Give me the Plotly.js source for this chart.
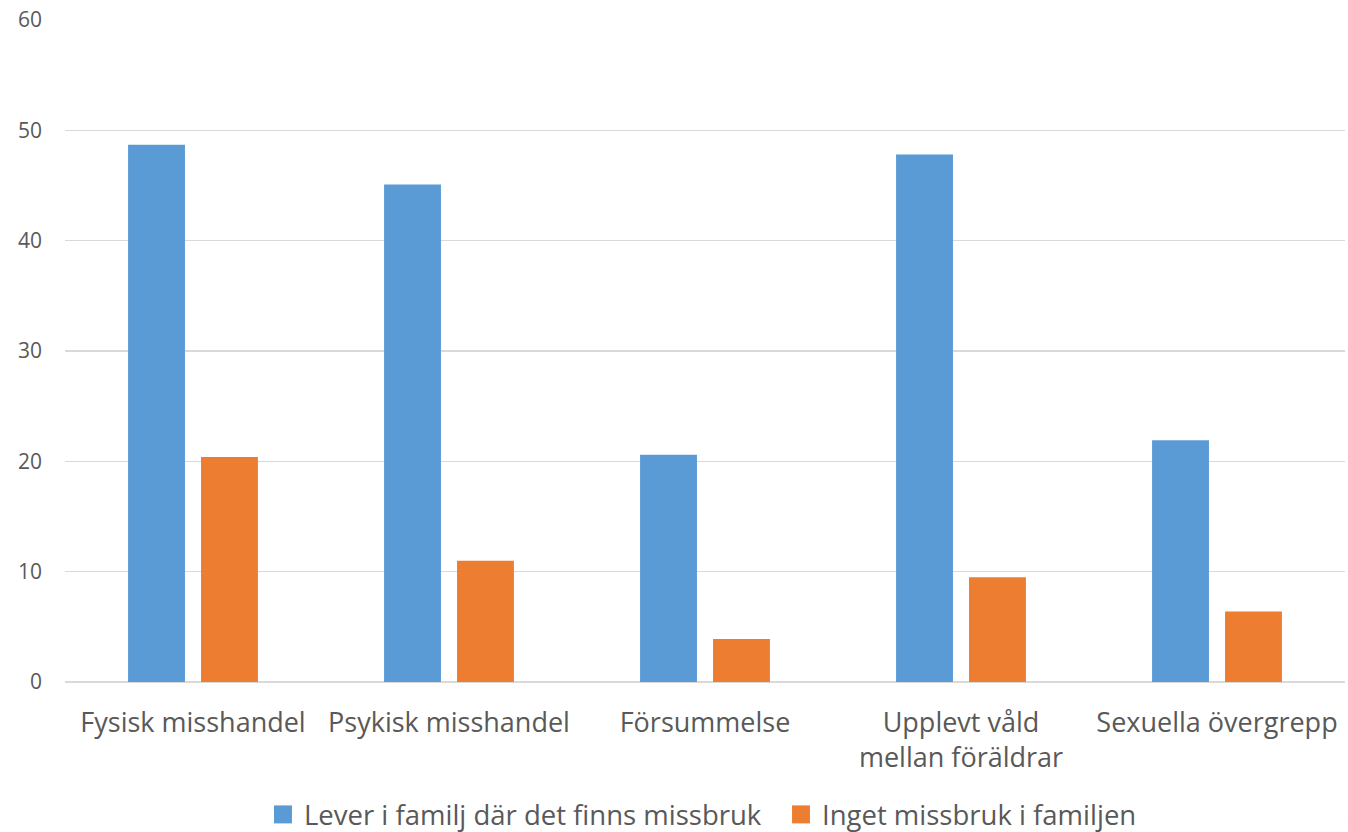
<!DOCTYPE html>
<html>
<head>
<meta charset="utf-8">
<script src="https://cdn.plot.ly/plotly-3.0.1.min.js"></script>
<style>html,body{margin:0;padding:0;background:#fff;}#chart{width:1348px;height:832px;}</style>
</head>
<body>
<div id="chart"></div>
<script>
const categories = ["Fysisk misshandel", "Psykisk misshandel", "Försummelse", "Upplevt våld<br>mellan föräldrar", "Sexuella övergrepp"];
const seriesNames = ["Lever i familj där det finns missbruk", "Inget missbruk i familjen"];
const missbruk = [48.7, 45.1, 20.6, 47.8, 21.9];
const ingetMissbruk = [20.4, 11.0, 3.9, 9.5, 6.4];
const tickValues = [0, 10, 20, 30, 40, 50, 60];
const colors = ["#5b9bd5", "#ed7d31"];

const fontFam = "'Open Sans', 'Noto Sans', sans-serif";
const txt = "#595959";

const traces = [
  {type: "bar", name: seriesNames[0], x: categories, y: missbruk, marker: {color: colors[0]}, hoverinfo: "x+y"},
  {type: "bar", name: seriesNames[1], x: categories, y: ingetMissbruk, marker: {color: colors[1]}, hoverinfo: "x+y"}
];

// manual legend (larger squares like the original)
const legendY = -0.2;
const sq = 18 / 662;
const legendItems = [
  {x0: 0.1633, x1: 0.1773, tx: 0.1852},
  {x0: 0.5680, x1: 0.5820, tx: 0.5898}
];
const shapes = legendItems.map((it, i) => ({
  type: "rect", xref: "paper", yref: "paper",
  x0: it.x0, x1: it.x1, y0: legendY - sq / 2, y1: legendY + sq / 2,
  fillcolor: colors[i], line: {width: 0}
}));
const annotations = legendItems.map((it, i) => ({
  xref: "paper", yref: "paper", x: it.tx, y: legendY, xanchor: "left", yanchor: "middle",
  text: seriesNames[i], showarrow: false, font: {family: fontFam, size: 27.5, color: txt}
}));
annotations.push({
  xref: "paper", yref: "paper", x: 1.0, y: legendY, xanchor: "left", yanchor: "middle",
  text: "S", showarrow: false, font: {family: fontFam, size: 27, color: txt}
});

const layout = {
  width: 1348, height: 832,
  margin: {l: 65, r: 3, t: 20, b: 150},
  paper_bgcolor: "#fff", plot_bgcolor: "#fff",
  barmode: "group", bargap: 0.43, bargroupgap: 0.22,
  showlegend: false,
  font: {family: fontFam, color: txt},
  xaxis: {
    type: "category", showgrid: false, zeroline: false, showline: false,
    ticks: "", ticklabelstandoff: 22,
    tickfont: {family: fontFam, size: 27, color: txt}, tickangle: 0,
    automargin: false
  },
  yaxis: {
    range: [0, 60], tickvals: tickValues, ticktext: tickValues.map(String),
    showgrid: true, gridcolor: "#d9d9d9", gridwidth: 1.3,
    zeroline: true, zerolinecolor: "#d9d9d9", zerolinewidth: 1.6,
    showline: false, ticks: "", ticklabelstandoff: 22,
    tickfont: {family: fontFam, size: 21, color: txt}, automargin: false
  },
  shapes: shapes,
  annotations: annotations
};

Plotly.newPlot("chart", traces, layout, {displayModeBar: false, staticPlot: true});
</script>
</body>
</html>
